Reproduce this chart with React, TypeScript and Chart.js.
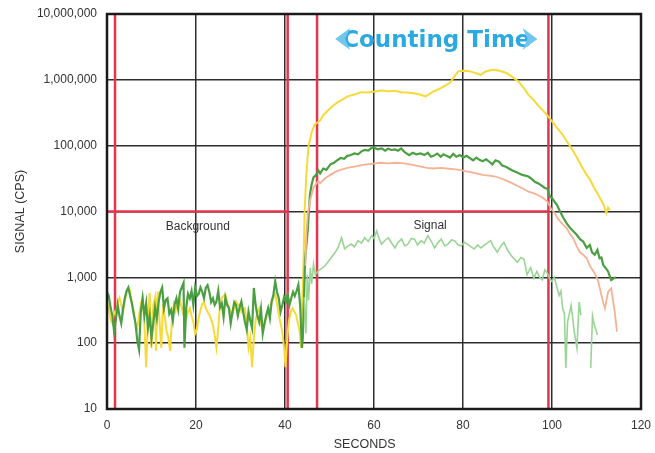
import React, { useEffect, useRef } from 'react';
import { Chart, registerables } from 'chart.js';

Chart.register(...registerables);

// ---------- axis / annotation values ----------
const yTickValues = [10, 100, 1000, 10000, 100000, 1000000, 10000000];
const xTickValues = [0, 20, 40, 60, 80, 100, 120];
const gateSeconds = [1.8, 40.6, 47.2, 99.2];
const thresholdCps = 10000;
const labelTexts = ['Background', 'Signal', 'Counting Time'];
const axisTitles = ['SECONDS', 'SIGNAL (CPS)'];

// ---------- series: dark green ----------
const darkGreenTime = [
  0.0, 0.4, 0.8, 1.2, 1.6, 2.0, 2.4, 2.8, 3.2, 3.6, 4.0, 4.4, 4.8, 5.2, 5.6, 6.0, 6.4, 6.8, 7.2, 7.6,
  8.0, 8.4, 8.8, 9.2, 9.6, 10.0, 10.4, 10.8, 11.2, 11.6, 12.0, 12.4, 12.8, 13.2, 13.6, 14.0, 14.4, 14.8, 15.2, 15.6,
  16.0, 16.4, 16.8, 17.2, 17.4, 17.8, 18.2, 18.6, 19.0, 19.4, 19.8, 20.2, 20.6, 21.0, 21.4, 21.8, 22.2, 22.6, 23.0, 23.4,
  23.8, 24.2, 24.6, 25.0, 25.4, 25.8, 26.2, 26.6, 27.0, 27.4, 27.8, 28.2, 28.6, 29.0, 29.4, 29.8, 30.2, 30.6, 31.0, 31.4,
  31.8, 32.2, 32.6, 33.0, 33.4, 33.8, 34.2, 34.6, 35.0, 35.4, 35.8, 36.2, 36.6, 37.0, 37.4, 37.8, 38.2, 38.6, 39.0, 39.4,
  39.8, 40.2, 40.6, 41.0, 41.4, 41.8, 42.2, 42.6, 43.0, 43.4, 43.8, 44.0,
  44.2, 44.5, 45.1, 45.6, 46.0, 46.4, 47.0, 47.5, 47.9, 48.6, 49.3, 50.2, 51.0, 51.7, 52.5, 53.3, 54.0, 54.8,
  55.6, 56.4, 57.2, 57.9, 58.7, 59.4, 59.9, 60.8, 61.7, 62.5, 63.2, 63.9, 64.7, 65.4, 66.1, 66.9, 67.9, 68.7,
  69.5, 70.5, 71.3, 72.1, 72.8, 73.4, 74.2, 75.0, 75.6, 76.3, 77.1, 77.8, 78.5, 79.3, 80.1, 80.8, 81.5, 82.3,
  83.0, 83.7, 84.4, 85.2, 85.9, 86.6, 87.3, 88.1, 88.8, 89.6, 90.3, 91.1, 91.8, 92.5, 93.3, 94.0, 94.7, 95.5,
  96.2, 96.8, 97.6, 98.3, 99.0, 99.5, 100.0, 100.6, 101.1, 101.8, 102.6, 103.3, 104.1, 104.8, 105.6, 106.3,
  107.0, 107.8, 108.5, 109.0, 109.6, 110.2, 110.7, 111.1, 111.5, 112.0, 112.6, 113.3, 113.8, 114.4,
];
const darkGreenCps = [
  600, 520, 350, 260, 150, 230, 380, 260, 200, 330, 480, 620, 700, 520, 400, 280, 200, 110, 80, 300,
  480, 260, 400, 170, 260, 120, 200, 350, 240, 420, 600, 700, 340, 450, 480, 280, 320, 220, 390, 480,
  330, 600, 700, 820, 85, 340, 560, 480, 620, 380, 690, 520, 560, 700, 600, 480, 690, 760, 600, 420,
  480, 380, 430, 620, 350, 400, 250, 490, 380, 340, 200, 300, 420, 380, 260, 350, 430, 300, 210, 160,
  300, 220, 170, 690, 380, 260, 210, 330, 140, 200, 270, 340, 240, 430, 550, 870, 600, 480, 300, 380,
  500, 430, 550, 380, 480, 600, 520, 620, 770, 380, 85, 120,
  300, 1800, 5100, 18000, 26000, 33000, 36000, 42000, 38000, 45000, 43000, 52000, 55000, 60000, 65000, 63000, 70000, 72000,
  76000, 74000, 82000, 86000, 84000, 92000, 94000, 88000, 91000, 84000, 90000, 86000, 88000, 84000, 91000, 80000, 72000, 78000,
  74000, 76000, 72000, 78000, 68000, 70000, 76000, 68000, 74000, 70000, 66000, 75000, 68000, 72000, 66000, 70000, 65000, 60000,
  66000, 61000, 58000, 62000, 57000, 52000, 60000, 57000, 50000, 48000, 45000, 42000, 40000, 38000, 36000, 35000, 34000, 31000,
  28000, 27000, 25000, 23000, 22000, 17000, 16000, 14000, 12600, 10000, 7900, 6600, 5600, 5000, 4400, 3800,
  3500, 2800, 3100, 2400, 2200, 2600, 1950, 2000, 1550, 1400, 1230, 910, 960, 1000,
];

// ---------- series: yellow ----------
const yellowTime = [
  0.0, 0.4, 0.8, 1.2, 1.6, 2.0, 2.4, 2.8, 3.2, 3.6, 4.0, 4.4, 4.8, 5.2, 5.6, 6.0, 6.4, 6.8, 7.2, 7.6,
  8.0, 8.4, 8.8, 9.2, 9.6, 10.0, 10.4, 10.8, 11.0, 11.4, 11.8, 12.2, 12.6, 13.0, 13.4, 13.8, 14.2, 14.6, 15.0, 15.4,
  15.8, 16.2, 16.6, 17.0, 17.4, 17.8, 18.2, 18.6, 19.0, 19.4, 19.8, 20.2, 20.6, 21.0, 21.4, 21.8, 22.2, 22.6, 23.0, 23.4,
  23.8, 24.2, 24.6, 25.0, 25.4, 25.8, 26.2, 26.6, 27.0, 27.4, 27.8, 28.2, 28.6, 29.0, 29.4, 29.8, 30.2, 30.6, 31.0, 31.4,
  31.8, 32.2, 32.6, 33.0, 33.4, 33.8, 34.2, 34.6, 35.0, 35.4, 35.8, 36.2, 36.6, 37.0, 37.4, 37.8, 38.2, 38.6, 39.0, 39.4,
  39.8, 40.1, 40.5, 40.9, 41.3, 41.7, 42.1, 42.5, 42.9, 43.3, 43.6, 43.9,
  44.1, 44.4, 44.8, 45.3, 46.0, 46.7, 47.3, 47.9, 48.6, 49.4, 50.5, 51.7, 52.9, 54.1, 55.6, 57.1, 58.6, 60.2,
  61.7, 63.2, 64.6, 66.1, 67.5, 69.0, 70.3, 71.6, 72.5, 73.4, 74.9, 76.3, 77.1, 77.8, 78.9, 80.0, 81.1, 82.2,
  83.1, 84.0, 85.1, 86.6, 87.7, 88.8, 90.0, 91.0, 92.5, 93.6, 94.7, 95.8, 96.8, 98.0, 99.0, 100.1, 101.2,
  102.3, 103.4, 104.5, 105.6, 106.7, 107.8, 108.6, 109.3, 110.0, 110.8, 111.5, 111.9, 112.2, 112.6, 113.0,
];
const yellowCps = [
  400, 340, 230, 200, 300, 270, 420, 490, 380, 300, 450, 580, 690, 640, 400, 300, 200, 170, 260, 400,
  490, 200, 43, 220, 580, 85, 380, 490, 76, 610, 220, 85, 390, 250, 150, 120, 76, 240, 390, 310,
  420, 490, 390, 300, 390, 240, 300, 340, 260, 210, 140, 160, 240, 320, 390, 420, 340, 300, 270, 230,
  190, 130, 85, 170, 390, 490, 520, 550, 420, 340, 300, 270, 350, 430, 380, 390, 300, 330, 340, 200,
  85, 120, 43, 120, 220, 300, 340, 200, 150, 200, 240, 300, 340, 420, 490, 550, 400, 270, 200, 150,
  85, 43, 120, 220, 300, 340, 300, 270, 200, 150, 85, 490,
  1000, 10000, 37000, 100000, 160000, 210000, 225000, 240000, 290000, 330000, 390000, 450000, 500000, 560000, 600000, 650000, 640000, 665000,
  690000, 670000, 680000, 650000, 640000, 625000, 600000, 560000, 610000, 665000, 740000, 840000, 900000, 1060000, 1340000, 1370000, 1360000, 1310000,
  1250000, 1190000, 1340000, 1420000, 1400000, 1340000, 1250000, 1120000, 940000, 760000, 590000, 500000, 415000, 340000, 285000, 230000, 183000,
  150000, 115000, 88000, 66000, 48000, 36000, 30000, 24000, 20000, 16000, 13000, 11000, 9500, 11500, 10500,
];

// ---------- series: salmon ----------
const salmonTime = [
  44.6, 44.8, 45.1, 45.6, 46.4, 47.5, 47.9, 49.0, 50.2, 51.3, 52.5, 54.0, 55.6, 57.5, 59.5, 61.3, 63.2, 65.0,
  66.8, 68.6, 70.5, 72.0, 73.4, 75.0, 76.3, 77.8, 79.3, 80.4, 81.5, 83.0, 84.4, 85.8, 87.3, 88.4, 89.5, 91.0,
  92.5, 93.6, 94.7, 95.8, 96.8, 98.0, 99.0, 99.8, 100.6, 101.2, 101.9, 102.6, 103.3, 104.0, 104.8, 105.5,
  106.3, 107.0, 107.8, 108.5, 109.3, 109.9, 110.4, 111.1, 111.5, 111.9, 112.6, 113.3, 113.7, 114.1, 114.6,
];
const salmonCps = [
  1500, 4600, 9000, 14500, 23000, 29000, 27000, 32000, 36000, 40000, 43000, 46000, 48000, 51000, 53000, 55000, 54000, 55000,
  54000, 51000, 48000, 46000, 45000, 46000, 45000, 44000, 43000, 41000, 40000, 38000, 36000, 35000, 34000, 32000, 30000, 27000,
  24000, 22000, 20000, 19000, 17800, 16000, 14000, 11000, 9500, 8000, 7000, 6200, 5600, 4600, 3900, 3000,
  2400, 2200, 1950, 1500, 1240, 1050, 860, 540, 420, 340, 600, 680, 450, 300, 150,
];

// ---------- series: light green ----------
const lightGreenTime = [
  44.3, 44.7, 45.0, 45.3, 45.7, 46.0, 46.4, 46.8, 47.4, 48.1, 48.9, 49.6, 50.4, 51.1, 51.9, 52.7, 53.4, 54.2,
  54.9, 55.6, 56.4, 57.2, 57.9, 58.7, 59.5, 60.0, 60.6, 61.2, 61.7, 62.4, 63.2, 64.0, 64.7, 65.4, 66.2, 66.9,
  67.6, 68.4, 69.1, 69.8, 70.6, 71.3, 72.1, 72.9, 73.6, 74.4, 75.1, 75.9, 76.6, 77.4, 78.1, 78.9, 79.6, 80.3,
  81.0, 81.8, 82.5, 83.3, 84.0, 85.1, 86.2, 86.9, 87.7, 88.5, 89.2, 90.0, 90.7, 91.5, 92.2, 93.0, 93.7, 94.4,
  95.2, 95.9, 96.6, 97.2, 97.8, 98.4, 98.9, 99.5, 100.0, 100.5, 101.0, 101.6, 102.0, 102.4, 102.8, 103.1,
  103.5, 104.3, 105.0, 105.6, 106.1, 106.5, 107.5, 108.7, 109.1, 109.5, 110.2,
];
const lightGreenCps = [
  500, 140, 1100, 450, 1400, 800, 1600, 1100, 1230, 1350, 1480, 1700, 2000, 2300, 2800, 4000, 2700, 3000,
  3200, 2900, 3600, 3300, 4000, 3500, 4300, 3900, 5100, 3800, 3200, 3600, 4000, 3300, 2800, 3400, 3800, 3000,
  3200, 3900, 3800, 3100, 3600, 3300, 4300, 3500, 2800, 3400, 3800, 3000, 3200, 3700, 3600, 3100, 3000, 3400,
  3200, 2900, 2700, 3100, 2800, 3200, 3600, 2900, 2400, 3000, 3400, 2600, 2200, 1900, 1700, 2000, 1900, 1100,
  1400, 970, 1230, 1000, 920, 1300, 1170, 950, 870, 1000, 750, 530, 620, 335, 280, 42,
  210, 375, 150, 84, 420, 265, null, 42, 260, 190, 133,
];

const COLORS = {
  darkGreen: '#4b9f43',
  yellow: '#f6da3a',
  salmon: '#f6b294',
  lightGreen: '#9bd596',
  red: '#e2364f',
  blue: '#2aa9e3',
  blueLight: '#72c6ee',
  grid: '#2e2e2e',
  text: '#333333',
};

const FONT = '"Liberation Sans", Arial, sans-serif';

const toPoints = (t: number[], v: (number | null)[]) => t.map((x, i) => ({ x, y: v[i] }));

const overlayPlugin = {
  id: 'overlay',
  beforeDatasetsDraw(chart: any) {
    const { ctx, chartArea: a, scales } = chart;
    const x = scales.x;
    const y = scales.y;
    ctx.save();
    ctx.strokeStyle = COLORS.red;
    ctx.lineWidth = 2.5;
    const line = (x1: number, y1: number, x2: number, y2: number) => {
      ctx.beginPath();
      ctx.moveTo(x1, y1);
      ctx.lineTo(x2, y2);
      ctx.stroke();
    };
    gateSeconds.forEach((s) => {
      const px = x.getPixelForValue(s);
      line(px, a.top, px, a.bottom);
    });
    const py = y.getPixelForValue(thresholdCps);
    line(x.getPixelForValue(0), py, x.getPixelForValue(gateSeconds[1]), py);
    line(x.getPixelForValue(gateSeconds[2]), py, x.getPixelForValue(gateSeconds[3]), py);

    ctx.fillStyle = COLORS.text;
    ctx.font = `12px ${FONT}`;
    ctx.textAlign = 'center';
    ctx.textBaseline = 'middle';
    ctx.fillText(labelTexts[0], x.getPixelForValue(20.4), py + 15);
    ctx.fillText(labelTexts[1], x.getPixelForValue(72.6), py + 14);
    ctx.restore();
  },
  afterDatasetsDraw(chart: any) {
    const { ctx, chartArea: a, scales } = chart;
    const x = scales.x;
    ctx.save();
    // frame
    ctx.strokeStyle = '#1a1a1a';
    ctx.lineWidth = 2.5;
    ctx.strokeRect(a.left, a.top, a.right - a.left, a.bottom - a.top);

    // Counting Time banner
    const cx = x.getPixelForValue(74);
    const baseY = a.top + 33;
    ctx.font = `bold 23px "DejaVu Sans", sans-serif`;
    ctx.textAlign = 'center';
    ctx.textBaseline = 'alphabetic';
    ctx.fillStyle = COLORS.blue;
    ctx.fillText(labelTexts[2], cx, baseY);
    const w = ctx.measureText(labelTexts[2]).width;
    const midY = baseY - 8;
    ctx.fillStyle = COLORS.blueLight;
    const lx = cx - w / 2 - 1;
    const rx = cx + w / 2 + 1;
    ctx.beginPath();
    ctx.moveTo(lx + 9, midY - 11);
    ctx.lineTo(lx - 6, midY);
    ctx.lineTo(lx + 9, midY + 11);
    ctx.lineTo(lx + 4, midY);
    ctx.closePath();
    ctx.fill();
    ctx.beginPath();
    ctx.moveTo(rx - 9, midY - 11);
    ctx.lineTo(rx + 6, midY);
    ctx.lineTo(rx - 9, midY + 11);
    ctx.lineTo(rx - 4, midY);
    ctx.closePath();
    ctx.fill();

    // axis titles
    ctx.fillStyle = COLORS.text;
    ctx.font = `12.5px ${FONT}`;
    ctx.textAlign = 'center';
    ctx.textBaseline = 'middle';
    ctx.fillText(axisTitles[0], x.getPixelForValue(57.9), a.bottom + 36);
    ctx.translate(21, (a.top + a.bottom) / 2);
    ctx.rotate(-Math.PI / 2);
    ctx.fillText(axisTitles[1], 0, 0);
    ctx.restore();
  },
};

export default function App() {
  const canvasRef = useRef<HTMLCanvasElement | null>(null);

  useEffect(() => {
    if (!canvasRef.current) return;
    const common = { pointRadius: 0, fill: false, tension: 0, spanGaps: false };
    const chart = new Chart(canvasRef.current, {
      type: 'line',
      data: {
        datasets: [
          { ...common, label: 'Light green', data: toPoints(lightGreenTime, lightGreenCps), borderColor: COLORS.lightGreen, borderWidth: 1.6 },
          { ...common, label: 'Salmon', data: toPoints(salmonTime, salmonCps), borderColor: COLORS.salmon, borderWidth: 1.8 },
          { ...common, label: 'Dark green', data: toPoints(darkGreenTime, darkGreenCps), borderColor: COLORS.darkGreen, borderWidth: 2.2 },
          { ...common, label: 'Yellow', data: toPoints(yellowTime, yellowCps), borderColor: COLORS.yellow, borderWidth: 2 },
        ],
      },
      options: {
        animation: false,
        responsive: false,
        maintainAspectRatio: false,
        layout: { padding: { top: 14, right: 14, left: 0, bottom: 0 } },
        plugins: { legend: { display: false }, tooltip: { enabled: false } },
        scales: {
          x: {
            type: 'linear',
            min: 0,
            max: 120,
            afterBuildTicks: (s: any) => {
              s.ticks = xTickValues.map((v) => ({ value: v }));
            },
            afterFit: (s: any) => {
              s.height = 44;
            },
            ticks: { color: COLORS.text, font: { family: FONT, size: 12 }, padding: 0, maxRotation: 0 },
            grid: { color: COLORS.grid, lineWidth: 1.5, drawTicks: true, tickLength: 9, tickColor: 'rgba(0,0,0,0)' },
            border: { display: false },
          },
          y: {
            type: 'logarithmic',
            min: 10,
            max: 10000000,
            afterBuildTicks: (s: any) => {
              s.ticks = yTickValues.map((v) => ({ value: v }));
            },
            afterFit: (s: any) => {
              s.width = 107;
            },
            ticks: {
              color: COLORS.text,
              font: { family: FONT, size: 12 },
              padding: 0,
              callback: (v: any) => Number(v).toLocaleString('en-US'),
            },
            grid: { color: COLORS.grid, lineWidth: 1.5, drawTicks: true, tickLength: 10, tickColor: 'rgba(0,0,0,0)' },
            border: { display: false },
          },
        },
      },
      plugins: [overlayPlugin],
    });
    return () => chart.destroy();
  }, []);

  return (
    <div style={{ position: 'absolute', left: 0, top: 0, width: 655, height: 453, background: '#fff' }}>
      <canvas ref={canvasRef} width={655} height={453} style={{ display: 'block' }} />
    </div>
  );
}
